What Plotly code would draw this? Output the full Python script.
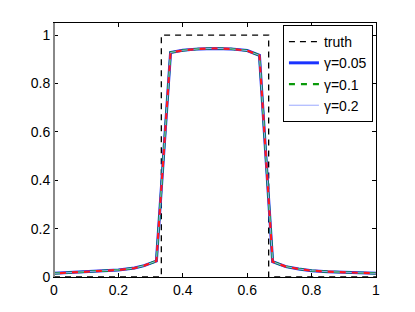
import plotly.graph_objects as go

# truth (piecewise constant)
truth_x = [0, 1/3, 1/3, 2/3, 2/3, 1]
truth_y = [0, 0, 1, 1, 0, 0]

# reconstructed curves (nearly identical for each gamma)
x = [0, 0.05, 0.1, 0.15, 0.2, 0.25, 0.28, 0.318, 0.362, 0.4, 0.45, 0.5,
     0.55, 0.6, 0.638, 0.679, 0.72, 0.76, 0.8, 0.85, 0.9, 0.95, 1.0]
y_005 = [0.015, 0.018, 0.021, 0.025, 0.029, 0.037, 0.047, 0.066, 0.928, 0.937,
         0.943, 0.945, 0.943, 0.936, 0.916, 0.063, 0.043, 0.033, 0.026, 0.022,
         0.019, 0.017, 0.015]
y_01 = list(y_005)
y_02 = list(y_005)
y_ref = list(y_005)

fig = go.Figure()
fig.add_trace(go.Scatter(x=truth_x, y=truth_y, mode="lines", name="truth",
                         line=dict(color="black", width=1.3, dash="6px,5px")))
fig.add_trace(go.Scatter(x=x, y=y_005, mode="lines", name="γ=0.05",
                         line=dict(color="#1a33ff", width=3)))
fig.add_trace(go.Scatter(x=x, y=y_01, mode="lines", name="γ=0.1",
                         line=dict(color="#0a9a0a", width=2.2, dash="6px,6px")))
fig.add_trace(go.Scatter(x=x, y=y_02, mode="lines", name="γ=0.2",
                         line=dict(color="#9aa8ff", width=1)))
fig.add_trace(go.Scatter(x=x, y=y_ref, mode="lines", showlegend=False,
                         line=dict(color="#ff1a1a", width=2.2, dash="0px,6px,6px,0px")))

tickfont = dict(family="Liberation Sans, Arial, sans-serif", size=14, color="black")
fig.update_layout(
    width=407, height=304,
    margin=dict(l=46, r=39, t=15, b=35),
    paper_bgcolor="white", plot_bgcolor="white",
    showlegend=True,
    legend=dict(x=0.711, y=0.992, xanchor="left", yanchor="top",
                bgcolor="white", bordercolor="black", borderwidth=1,
                font=dict(family="Liberation Sans, Arial, sans-serif", size=14, color="black"),
                tracegroupgap=0, itemwidth=30),
    xaxis=dict(range=[0, 1], tickvals=[0, 0.2, 0.4, 0.6, 0.8, 1],
               ticktext=["0", "0.2", "0.4", "0.6", "0.8", "1"],
               ticks="inside", ticklen=4, tickcolor="black",
               showline=True, linecolor="black", linewidth=1, mirror="ticks",
               showgrid=False, zeroline=False, tickfont=tickfont,
               layer="above traces"),
    yaxis=dict(range=[0, 1.05], tickvals=[0, 0.2, 0.4, 0.6, 0.8, 1],
               ticktext=["0", "0.2", "0.4", "0.6", "0.8", "1"],
               ticks="inside", ticklen=4, tickcolor="black",
               showline=True, linecolor="black", linewidth=1, mirror="ticks",
               showgrid=False, zeroline=False, tickfont=tickfont,
               layer="above traces"),
    shapes=[dict(type="line", xref="paper", yref="paper", x0=0, x1=0, y0=0, y1=1,
                 line=dict(color="#888888", width=2), layer="above")],
)

fig.write_html("out.html")
